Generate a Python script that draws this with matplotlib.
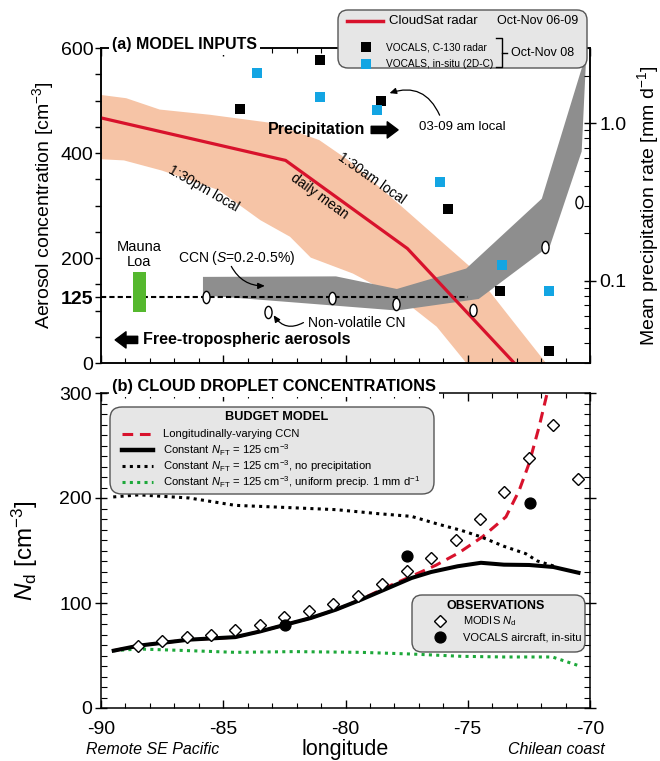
import numpy as np
import matplotlib
matplotlib.use('Agg')
import matplotlib.pyplot as plt
from matplotlib.path import Path
from matplotlib.patches import FancyBboxPatch
from matplotlib.ticker import MultipleLocator, FixedLocator, LogLocator, NullFormatter

plt.rcParams['font.family'] = ['Liberation Sans', 'DejaVu Sans']
plt.rcParams['mathtext.fontset'] = 'custom'
plt.rcParams['mathtext.rm'] = 'Liberation Sans'
plt.rcParams['mathtext.it'] = 'Liberation Sans:italic'
plt.rcParams['mathtext.bf'] = 'Liberation Sans:bold'
plt.rcParams['axes.unicode_minus'] = False
plt.rcParams['axes.linewidth'] = 1.1

#
# Data, panel (a)
#
# CloudSat precipitation [mm/d]: daily mean, 1:30am and 1:30pm overpasses
cs_lon = [-90.0, -82.45, -77.47, -73.1]
cs_rate = [1.08, 0.58, 0.16, 0.030]
am_lon = [-90.0, -88.97, -87.6, -85.54, -82.96, -81.07, -79.87, -77.64, -74.89, -73.18, -71.8]
am_rate = [1.51, 1.44, 1.22, 1.13, 1.00, 0.78, 0.58, 0.29, 0.122, 0.056, 0.030]
pm_lon = [-90.0, -89.06, -87.51, -85.19, -83.48, -82.27, -81.42, -79.70, -77.64, -76.27, -75.06]
pm_rate = [0.59, 0.58, 0.50, 0.376, 0.242, 0.19, 0.14, 0.111, 0.075, 0.051, 0.030]

# VOCALS precipitation
c130_lon = [-84.30, -81.04, -78.55, -75.79, -73.69, -71.68]
c130_rate = [1.23, 2.53, 1.39, 0.283, 0.086, 0.036]
insitu_lon = [-83.63, -81.06, -78.70, -76.13, -73.61, -71.68]
insitu_rate = [2.08, 1.46, 1.22, 0.425, 0.126, 0.0855]

# CCN range [cm-3]
ccn_hi_lon = [-85.83, -80.39, -77.90, -75.06, -71.97, -70.15]
ccn_hi = [164, 165, 141, 180, 313, 590]
ccn_lo_lon = [-85.83, -77.90, -74.55, -71.63, -70.34]
ccn_lo = [129, 100, 122, 224, 403]

# Non-volatile CN
cn_lon = [-85.71, -83.17, -80.56, -77.93, -74.79, -71.85, -70.43]
cn_val = [125.5, 96.8, 123.6, 111.5, 101.9, 221, 306]

# Free-tropospheric value and Mauna Loa range
ft_lon = [-90.0, -75.0]
ft_val = [125, 125]
mauna_lon = [-88.71, -88.16]
mauna_lo = 98
mauna_hi = 174

#
# Data, panel (b)
#
nft_lon = [-89.48, -88.45, -86.39, -84.51, -83.48, -82.45, -81.42, -80.39, -79.36,
           -78.33, -77.30, -76.50, -75.41, -74.46, -73.52, -72.49, -71.50, -70.47]
nft_nd = [54.6, 59.4, 65.1, 67.5, 73.0, 79.4, 85.7, 93.7, 103.2,
          113.5, 123.8, 129.5, 135.0, 138.3, 136.5, 136.2, 134.3, 128.8]
ccnvar_lon = [-89.48, -88.45, -86.39, -84.51, -83.48, -82.45, -81.42, -80.39, -79.36,
              -78.33, -77.30, -76.30, -75.35, -74.40, -73.44, -72.90, -72.49, -72.08, -71.74]
ccnvar_nd = [54.6, 59.4, 65.1, 67.5, 73.0, 79.4, 85.7, 93.7, 103.5,
             115.0, 125.5, 136.0, 148.0, 163.0, 182.0, 207.0, 233.0, 268.0, 301.0]
noprec_lon = [-89.5, -88.45, -86.39, -84.51, -82.45, -80.39, -78.67, -77.30, -76.20,
              -75.24, -74.46, -73.52, -72.63, -72.15, -71.40]
noprec_nd = [201, 203, 200, 193, 191, 188.9, 185.1, 182.5, 175,
             169, 163, 154, 147, 140, 134.6]
unif_lon = [-89.48, -88.45, -86.39, -84.51, -82.1, -79.36, -77.30, -75.24, -73.52, -71.54, -70.46]
unif_nd = [54.6, 56.2, 54.6, 53.0, 53.7, 53.0, 51.4, 49.2, 48.6, 48.6, 40.3]

modis_lon = [-88.5, -87.5, -86.5, -85.5, -84.5, -83.5, -82.5, -81.5, -80.5, -79.5,
             -78.5, -77.5, -76.5, -75.5, -74.5, -73.5, -72.5, -71.5, -70.5]
modis_nd = [58.7, 63.5, 67.3, 69.2, 74.6, 79.4, 86.7, 92.1, 99.4, 106.3,
            117.8, 130.5, 142.5, 160.0, 179.7, 206.0, 238.4, 270.0, 218.1]
air_lon = [-82.48, -77.49, -72.46]
air_nd = [79.4, 145, 195]

red = '#d8122c'
salmon = '#f6c4a6'
grey = '#8e8e8e'
blue = '#13a5e3'
green = '#55b82e'
green_dot = '#1da83a'
legend_fc = '#e6e6e6'
legend_ec = '#555555'

# Tall narrow ellipse for the CN markers
circ = Path.unit_circle()
oval = Path(circ.vertices * [0.58, 1.0], circ.codes)

W, H = 660, 761


def box(x0, y0, x1, y1):
    # pixel box (from top-left) to figure fraction
    return [x0 / W, 1 - y1 / H, (x1 - x0) / W, (y1 - y0) / H]


fig = plt.figure(figsize=(W / 100, H / 100), dpi=100)

#
# Panel (a)
#
ax = fig.add_axes(box(101, 48, 590, 363))
axr = ax.twinx()
ax.set_xlim(-90, -70)
ax.set_ylim(0, 600)
axr.set_yscale('log')
axr.set_ylim(0.03, 3)
tp = axr.transData

ax.fill(np.r_[am_lon, pm_lon[::-1]], np.r_[am_rate, pm_rate[::-1]],
        transform=tp, color=salmon, lw=0, zorder=1)
ax.fill(np.r_[ccn_hi_lon, ccn_lo_lon[::-1]], np.r_[ccn_hi, ccn_lo[::-1]],
        color=grey, lw=0, zorder=2)
ax.plot(ft_lon, ft_val, color='k', lw=1.5, ls=(0, (2.5, 1.5)), zorder=3)
ax.fill_between(mauna_lon, mauna_lo, mauna_hi, color=green, lw=0, zorder=3)
ax.plot(cs_lon, cs_rate, transform=tp, color=red, lw=2.3, zorder=4)
ax.plot(c130_lon, c130_rate, 's', transform=tp, color='k', ms=6.8, mew=0, zorder=5)
ax.plot(insitu_lon, insitu_rate, 's', transform=tp, color=blue, ms=6.8, mew=0, zorder=5)
ax.plot(cn_lon, cn_val, ls='', marker=oval, ms=8.8, mfc='white', mec='k', mew=1, zorder=6)

ax.xaxis.set_major_locator(MultipleLocator(5))
ax.xaxis.set_minor_locator(MultipleLocator(1))
ax.tick_params(axis='x', which='both', direction='in', top=True, bottom=True,
               labelbottom=False)
ax.tick_params(axis='x', which='major', length=6, width=1)
ax.tick_params(axis='x', which='minor', length=3.5, width=0.8)
ax.set_yticks([0, 125, 200, 400, 600])
ax.set_yticklabels(['0', '125', '200', '400', '600'])
ax.get_yticklabels()[1].set_fontweight('bold')
ax.yaxis.set_minor_locator(FixedLocator([50, 100, 150, 250, 300, 350, 450, 500, 550]))
ax.tick_params(axis='y', which='both', direction='out', length=4, width=1,
               labelsize=14, pad=1.5)
ax.set_ylabel('Aerosol concentration [cm$^{-3}$]', fontsize=14)
ax.yaxis.set_label_coords(-0.092, 0.5)

axr.set_yticks([0.1, 1.0])
axr.set_yticklabels(['0.1', '1.0'])
axr.yaxis.set_minor_locator(LogLocator(subs=np.arange(2, 10)))
axr.yaxis.set_minor_formatter(NullFormatter())
axr.tick_params(axis='y', which='major', direction='inout', length=9, width=1,
                labelsize=14, pad=2)
axr.tick_params(axis='y', which='minor', direction='in', length=4, width=0.8)
axr.set_ylabel('Mean precipitation rate [mm d$^{-1}$]', fontsize=14)
axr.yaxis.set_label_coords(1.092, 0.5)

# annotations
thin = dict(arrowstyle='-|>,head_length=0.4,head_width=0.18', color='k', lw=0.9,
            shrinkA=0, shrinkB=0)
block = dict(arrowstyle='simple,head_length=0.6,head_width=0.9,tail_width=0.4',
             fc='k', ec='k', shrinkA=0, shrinkB=0, mutation_scale=13)
ax.text(-88.45, 207, 'Mauna\nLoa', fontsize=10.5, ha='center', va='center',
        linespacing=1.05)
ax.text(-86.86, 200, 'CCN ($S$=0.2-0.5%)', fontsize=10, ha='left', va='center')
ax.annotate('', xy=(-83.3, 147), xytext=(-84.67, 184),
            arrowprops=dict(thin, connectionstyle='arc3,rad=0.3'))
ax.text(-81.55, 76, 'Non-volatile CN', fontsize=10, ha='left', va='center')
ax.annotate('', xy=(-82.94, 91), xytext=(-81.72, 77),
            arrowprops=dict(thin, connectionstyle='arc3,rad=-0.45'))
ax.text(-88.28, 44, 'Free-tropospheric aerosols', fontsize=11.5, fontweight='bold',
        ha='left', va='center')
ax.annotate('', xy=(-89.42, 44), xytext=(-88.5, 44), arrowprops=block)
ax.text(-83.18, 444, 'Precipitation', fontsize=11.5, fontweight='bold',
        ha='left', va='center')
ax.annotate('', xy=(-77.85, 444), xytext=(-78.95, 444), arrowprops=block)
ax.text(-76.98, 450, '03-09 am local', fontsize=9.5, ha='left', va='center')
ax.annotate('', xy=(-78.2, 514), xytext=(-76.15, 472),
            arrowprops=dict(thin, connectionstyle='arc3,rad=0.45'))
ax.text(-78.93, 352, '1:30am local', fontsize=10, rotation=-35,
        rotation_mode='anchor', ha='center', va='center')
ax.text(-81.07, 317, 'daily mean', fontsize=10, rotation=-36,
        rotation_mode='anchor', ha='center', va='center')
ax.text(-85.8, 333, '1:30pm local', fontsize=10, rotation=-30,
        rotation_mode='anchor', ha='center', va='center')

#
# Panel (b)
#
axb = fig.add_axes(box(101, 393, 590, 708))
axb.set_xlim(-90, -70)
axb.set_ylim(0, 300)
axb.plot(ccnvar_lon, ccnvar_nd, color=red, lw=2.2, ls=(0, (3.5, 2.2)), zorder=2)
axb.plot(noprec_lon, noprec_nd, color='k', lw=2.2, ls=(0, (1, 1.4)), zorder=2)
axb.plot(unif_lon, unif_nd, color=green_dot, lw=2.2, ls=(0, (1, 1.4)), zorder=2)
axb.plot(nft_lon, nft_nd, color='k', lw=2.9, zorder=3)
axb.plot(modis_lon, modis_nd, 'D', ms=6.5, mfc='white', mec='k', mew=1, zorder=4)
axb.plot(air_lon, air_nd, 'o', ms=7.8, color='k', zorder=5)

axb.xaxis.set_major_locator(MultipleLocator(5))
axb.xaxis.set_minor_locator(MultipleLocator(1))
axb.yaxis.set_major_locator(MultipleLocator(100))
axb.yaxis.set_minor_locator(MultipleLocator(10))
axb.tick_params(axis='x', which='both', direction='in', top=True, bottom=True,
                labelsize=14, pad=9)
axb.tick_params(axis='x', which='major', length=6, width=1)
axb.tick_params(axis='x', which='minor', length=3.5, width=0.8)
axb.tick_params(axis='y', which='both', left=True, right=True, labelsize=14)
axb.tick_params(axis='y', which='major', direction='inout', length=9, width=1, pad=2)
axb.tick_params(axis='y', which='minor', direction='in', length=4, width=0.8)
axb.set_xlabel('longitude', fontsize=15.5)
axb.xaxis.set_label_coords(0.5, -0.1)
axb.set_ylabel(r'$N_\mathrm{d}$ [cm$^{-3}$]', fontsize=17.5)
axb.yaxis.set_label_coords(-0.125, 0.5)

#
# Overlay in pixel units: titles and legend boxes
#
ov = fig.add_axes([0, 0, 1, 1])
ov.set_xlim(0, W)
ov.set_ylim(H, 0)
ov.axis('off')

white = dict(fc='white', ec='none', pad=2)
ov.text(112, 45, '(a) MODEL INPUTS', fontsize=11.5, fontweight='bold',
        ha='left', va='center', bbox=white)
ov.text(112, 387, '(b) CLOUD DROPLET CONCENTRATIONS', fontsize=11.8,
        fontweight='bold', ha='left', va='center', bbox=white)
ov.text(86, 750, 'Remote SE Pacific', fontsize=11.5, style='italic',
        ha='left', va='center')
ov.text(605, 750, 'Chilean coast', fontsize=11.5, style='italic',
        ha='right', va='center')

# precipitation legend
ov.add_patch(FancyBboxPatch((338, 10), 249, 58,
                            boxstyle='round,pad=0,rounding_size=10',
                            fc=legend_fc, ec=legend_ec, lw=1))
ov.plot([347, 383], [21, 21], color=red, lw=2.5)
ov.text(389, 21, 'CloudSat radar', fontsize=9.5, ha='left', va='center')
ov.text(578, 21, 'Oct-Nov 06-09', fontsize=9, ha='right', va='center')
ov.plot(366, 47, 's', color='k', ms=6.8, mew=0)
ov.plot(366, 64, 's', color=blue, ms=6.8, mew=0)
ov.text(386, 47, 'VOCALS, C-130 radar', fontsize=7.3, ha='left', va='center')
ov.text(386, 64, 'VOCALS, in-situ (2D-C)', fontsize=7.3, ha='left', va='center')
ov.plot([496, 502, 502, 496], [38, 38, 67, 67], color='k', lw=1)
ov.plot([502, 507], [53, 53], color='k', lw=1)
ov.text(511, 53, 'Oct-Nov 08', fontsize=9, ha='left', va='center')

# budget model legend
ov.add_patch(FancyBboxPatch((110, 407), 324, 87,
                            boxstyle='round,pad=0,rounding_size=12',
                            fc=legend_fc, ec=legend_ec, lw=1))
ov.text(277, 417, 'BUDGET MODEL', fontsize=9.2, fontweight='bold',
        ha='center', va='center')
key_y = [434, 450, 466, 482]
ov.plot([122, 153], [key_y[0]] * 2, color=red, lw=2.2, ls=(0, (3.5, 2.2)))
ov.plot([122, 153], [key_y[1]] * 2, color='k', lw=3.2)
ov.plot([122, 153], [key_y[2]] * 2, color='k', lw=2.2, ls=(0, (1, 1.4)))
ov.plot([122, 153], [key_y[3]] * 2, color=green_dot, lw=2.2, ls=(0, (1, 1.4)))
budget_labels = [
    'Longitudinally-varying CCN',
    r'Constant $N_\mathrm{FT}$ = 125 cm$^{-3}$',
    r'Constant $N_\mathrm{FT}$ = 125 cm$^{-3}$, no precipitation',
    r'Constant $N_\mathrm{FT}$ = 125 cm$^{-3}$, uniform precip. 1 mm d$^{-1}$',
]
for y, label in zip(key_y, budget_labels):
    ov.text(163, y, label, fontsize=8.1, ha='left', va='center')

# observations legend
ov.add_patch(FancyBboxPatch((412, 595), 173, 57,
                            boxstyle='round,pad=0,rounding_size=10',
                            fc=legend_fc, ec=legend_ec, lw=1))
ov.text(496, 606, 'OBSERVATIONS', fontsize=9, fontweight='bold',
        ha='center', va='center')
ov.plot(440, 621, 'D', ms=6.5, mfc='white', mec='k', mew=1)
ov.plot(440, 637, 'o', ms=7.8, color='k')
ov.text(463, 621, r'MODIS $N_\mathrm{d}$', fontsize=8, ha='left', va='center')
ov.text(463, 637, 'VOCALS aircraft, in-situ', fontsize=8, ha='left', va='center')

fig.savefig('out.png', dpi=100)
